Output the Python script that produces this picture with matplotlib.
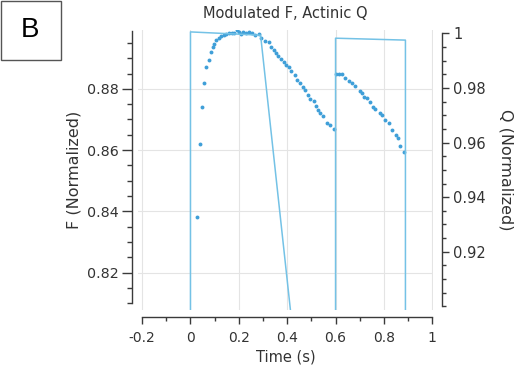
import matplotlib
matplotlib.use('Agg')
import matplotlib.pyplot as plt
import matplotlib.patches as patches
from matplotlib.ticker import MultipleLocator, FormatStrFormatter

plt.rcParams['font.family'] = 'DejaVu Sans'
plt.rcParams['axes.unicode_minus'] = False

# modulated fluorescence (left axis)
f_time = [0.028, 0.040, 0.048, 0.057, 0.065, 0.077, 0.086, 0.093, 0.099, 0.106,
          0.116, 0.127, 0.137, 0.148, 0.160, 0.171, 0.182, 0.192, 0.202, 0.210,
          0.219, 0.229, 0.240, 0.254, 0.268, 0.282,
          0.293, 0.309, 0.323, 0.334, 0.347, 0.355, 0.364, 0.376, 0.385, 0.396,
          0.406, 0.417, 0.431, 0.441, 0.451, 0.465, 0.475, 0.486, 0.496, 0.509,
          0.519, 0.526, 0.537, 0.548, 0.565, 0.578, 0.592,
          0.600, 0.613, 0.627, 0.641, 0.654, 0.668, 0.682, 0.700, 0.710, 0.716,
          0.730, 0.741, 0.755, 0.765, 0.783, 0.793, 0.806, 0.820, 0.834, 0.848,
          0.859, 0.868, 0.882]
f_value = [0.8381, 0.8620, 0.8740, 0.8819, 0.8870, 0.8895, 0.8921, 0.8937, 0.8946, 0.8958,
           0.8966, 0.8972, 0.8975, 0.8978, 0.8981, 0.8981, 0.8983, 0.8992, 0.8984, 0.8978,
           0.8986, 0.8981, 0.8984, 0.8981, 0.8977, 0.8980,
           0.8966, 0.8957, 0.8952, 0.8938, 0.8927, 0.8916, 0.8906, 0.8898, 0.8889, 0.8878,
           0.8870, 0.8857, 0.8846, 0.8829, 0.8819, 0.8805, 0.8797, 0.8780, 0.8767, 0.8761,
           0.8743, 0.8731, 0.8721, 0.8710, 0.8687, 0.8682, 0.8669,
           0.8850, 0.8850, 0.8848, 0.8834, 0.8826, 0.8818, 0.8809, 0.8793, 0.8785, 0.8774,
           0.8769, 0.8758, 0.8741, 0.8733, 0.8720, 0.8714, 0.8698, 0.8687, 0.8665, 0.8649,
           0.8638, 0.8613, 0.8594]

# actinic light (right axis)
q_time = [0.0, 0.0, 0.29, 0.44, 0.60, 0.60, 0.889, 0.889]
q_value = [0.85, 1.0005, 0.9993, 0.877, 0.85, 0.9982, 0.9975, 0.85]

x_ticks = [-0.2, 0, 0.2, 0.4, 0.6, 0.8, 1]
f_ticks = [0.82, 0.84, 0.86, 0.88]
q_ticks = [0.92, 0.94, 0.96, 0.98, 1]

dot_color = '#3f9fd8'
line_color = '#74c2e6'
axis_color = '#3a3a3a'
text_color = '#333333'

fig = plt.figure(figsize=(5.2, 3.65), dpi=100, facecolor='white')
ax = fig.add_axes([138 / 520, 1 - 310 / 365, (433 - 138) / 520, (310 - 30) / 365])
ax2 = ax.twinx()

ax.plot(f_time, f_value, 'o', ms=2.8, color=dot_color, mec='none')
ax2.plot(q_time, q_value, '-', lw=1.1, color=line_color)

ax.set_xlim(-0.217, 1.003)
ax.set_ylim(0.8078, 0.8992)
ax2.set_ylim(0.8987, 1.0012)

ax.grid(True, color='#e4e4e4', lw=0.8)
ax.set_axisbelow(True)

for a in (ax, ax2):
    a.spines['top'].set_visible(False)
    a.patch.set_visible(False)
ax.spines['right'].set_visible(False)
ax2.spines['left'].set_visible(False)
ax2.spines['bottom'].set_visible(False)

ax.spines['left'].set_position(('outward', 4))
ax.spines['left'].set_bounds(0.81, 0.8988)
ax.spines['bottom'].set_position(('outward', 5))
ax.spines['bottom'].set_bounds(-0.2, 1.0)
ax2.spines['right'].set_position(('outward', 6.5))
ax2.spines['right'].set_bounds(0.9, 1.0)
for sp in (ax.spines['left'], ax.spines['bottom'], ax2.spines['right']):
    sp.set_color(axis_color)
    sp.set_linewidth(1.0)

ax.set_xticks(x_ticks)
ax.xaxis.set_minor_locator(MultipleLocator(0.1))
ax.xaxis.set_major_formatter(FormatStrFormatter('%g'))
ax.set_yticks(f_ticks)
ax.yaxis.set_minor_locator(MultipleLocator(0.005))
ax2.set_yticks(q_ticks)
ax2.yaxis.set_minor_locator(MultipleLocator(0.005))
ax2.yaxis.set_major_formatter(FormatStrFormatter('%g'))

ax.tick_params(axis='x', which='major', length=5, width=1, color=axis_color,
               labelsize=10, labelcolor=text_color, pad=5)
ax.tick_params(axis='x', which='minor', length=3, width=1, color=axis_color)
ax.tick_params(axis='y', which='major', length=7, width=1, color=axis_color,
               labelsize=10.3, labelcolor=text_color, pad=3)
ax.tick_params(axis='y', which='minor', length=3.5, width=1, color=axis_color)
ax2.tick_params(axis='y', which='major', length=5, width=1, color=axis_color,
                labelsize=10.5, labelcolor=text_color, pad=3)
ax2.tick_params(axis='y', which='minor', length=3, width=1, color=axis_color)

ax.set_title('Modulated F, Actinic Q', fontsize=10.5, color=text_color, pad=9)
ax.set_xlabel('Time (s)', fontsize=10.5, color=text_color, labelpad=3)
ax.set_ylabel('F (Normalized)', fontsize=11.5, color=text_color, labelpad=4)
ax2.set_ylabel('Q (Normalized)', fontsize=11.5, color=text_color, rotation=270, labelpad=20)

# panel letter
box = patches.Rectangle((0.5 / 520, 1 - 60 / 365), 60 / 520, 59.5 / 365,
                        transform=fig.transFigure, fill=False,
                        edgecolor='#555555', lw=1.0)
fig.patches.append(box)
fig.text(30 / 520, 1 - 30 / 365, 'B', ha='center', va='center', fontsize=20,
         family='Liberation Sans', color='black')

fig.savefig('out.png', dpi=100)
